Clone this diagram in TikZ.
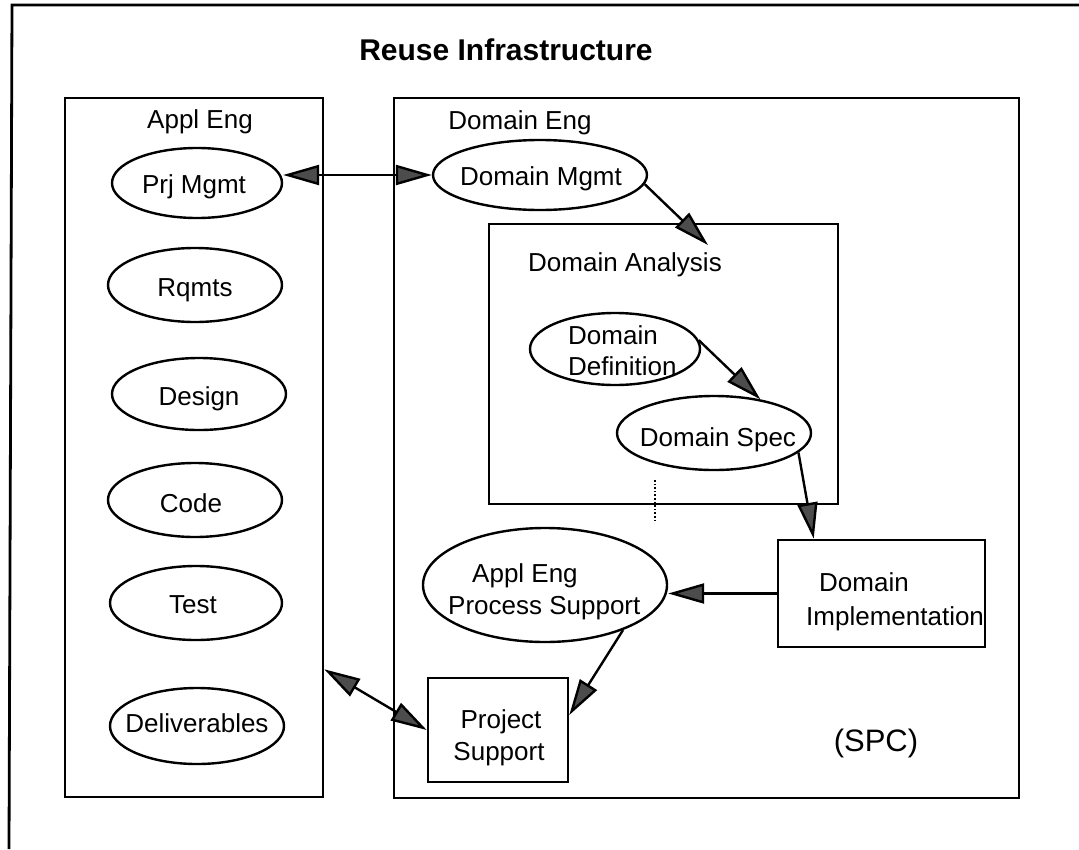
\documentclass[tikz,border=0pt]{standalone}
\usepackage{fontspec}
\setmainfont{Liberation Sans}
\usetikzlibrary{arrows.meta,shapes.geometric,calc}

\begin{document}
\begin{tikzpicture}[x=1pt,y=-1pt,
  frame/.style={draw, line width=2.8pt},
  box/.style={draw, rectangle, line width=2.6pt, inner sep=0pt},
  oval/.style={draw, ellipse, line width=2.4pt, inner sep=0pt},
  lbl/.style={inner sep=0pt, text height=18.6pt, text depth=0pt,
              font=\fontsize{26}{30}\selectfont},
  head/.tip={Triangle[length=36pt,width=20pt,fill=black!70]},
  conn/.style={line width=2.4pt, -head},
  conn2/.style={line width=2.4pt, head-head},
]
\useasboundingbox (0,0) rectangle (1079,849);

% outer frame
\draw[frame] (1079,5) -- (12,5) -- (9,849);

% title
\node[inner sep=0pt, text height=21.5pt, text depth=0pt,
      font=\bfseries\fontsize{30}{34}\selectfont] (title) at (506,50) {Reuse Infrastructure};

% application engineering column
\node[box, minimum width=258pt, minimum height=699pt] (appl) at (194,447.5) {};
\node[lbl] (applT) at (200,119) {Appl Eng};
\node[oval, minimum width=170pt, minimum height=70pt] (prj) at (197,183) {};
\node[lbl] (prjT) at (194,184) {Prj Mgmt};
\node[oval, minimum width=174pt, minimum height=74pt] (rqmts) at (195,285) {};
\node[lbl] (rqmtsT) at (195,287) {Rqmts};
\node[oval, minimum width=174pt, minimum height=72pt] (design) at (199,394) {};
\node[lbl] (designT) at (199,396) {Design};
\node[oval, minimum width=174pt, minimum height=74pt] (code) at (195,500) {};
\node[lbl] (codeT) at (191,503) {Code};
\node[oval, minimum width=172pt, minimum height=74pt] (test) at (196,603) {};
\node[lbl] (testT) at (193,604) {Test};
\node[oval, minimum width=174pt, minimum height=76pt] (deliv) at (197,726) {};
\node[lbl] (delivT) at (197,723) {Deliverables};

% domain engineering
\node[box, minimum width=625pt, minimum height=700pt] (deng) at (706.5,448) {};
\node[lbl] (dengT) at (520,120) {Domain Eng};
\node[oval, minimum width=214pt, minimum height=70pt] (dmgmt) at (540,175) {};
\node[lbl] (dmgmtT) at (541,176) {Domain Mgmt};

% domain analysis
\node[box, minimum width=349pt, minimum height=280pt] (dana) at (663.5,364) {};
\node[lbl] (danaT) at (625,262.5) {Domain Analysis};
\node[oval, minimum width=170pt, minimum height=72pt] (ddef) at (615,349) {};
\node[lbl, anchor=west] (ddefA) at (568,335) {Domain};
\node[lbl, anchor=west] (ddefB) at (568,366) {Definition};
\node[oval, minimum width=194pt, minimum height=74pt] (dspec) at (714,433) {};
\node[lbl] (dspecT) at (718,437) {Domain Spec};
\draw[dotted, line width=1.6pt] (655,480) -- (655,520);

% domain implementation
\node[lbl, anchor=west] (dimplA) at (819,582) {Domain};
\node[lbl, anchor=west] (dimplB) at (806,616) {Implementation};
\node[box, minimum width=207pt, minimum height=107pt] (dimpl) at (881.5,593.5) {};

% application engineering process support
\node[oval, minimum width=244pt, minimum height=114pt] (aeps) at (545,585) {};
\node[lbl, anchor=west] (aepsA) at (472,573) {Appl Eng};
\node[lbl, anchor=west] (aepsB) at (448,605) {Process Support};

% project support
\node[box, minimum width=140pt, minimum height=104pt] (psup) at (498,730) {};
\node[lbl] (psupA) at (501,719) {Project};
\node[lbl] (psupB) at (499,751) {Support};

\node[inner sep=0pt, font=\fontsize{31}{35}\selectfont] (spc) at (876,743) {(SPC)};

% connectors
\coordinate (danaIn) at (708,245);
\draw[conn2] (prj.east |- dmgmt.west) -- (dmgmt.west);
\draw[conn] (dmgmt.-5) -- (danaIn);
\draw[conn] (ddef.6) -- (dspec.36);
\draw[conn] (dspec.-13) -- ($(dimpl.north west)+(37,0)$);
\draw[conn] (dimpl.west) -- (dimpl.west -| aeps.east);
\draw[conn] (aeps.-30) -- ($(psup.east)+(0,-15)$);
\draw[conn2] ($(appl.south east)+(0,-129)$) -- (psup.west);
\end{tikzpicture}
\end{document}
